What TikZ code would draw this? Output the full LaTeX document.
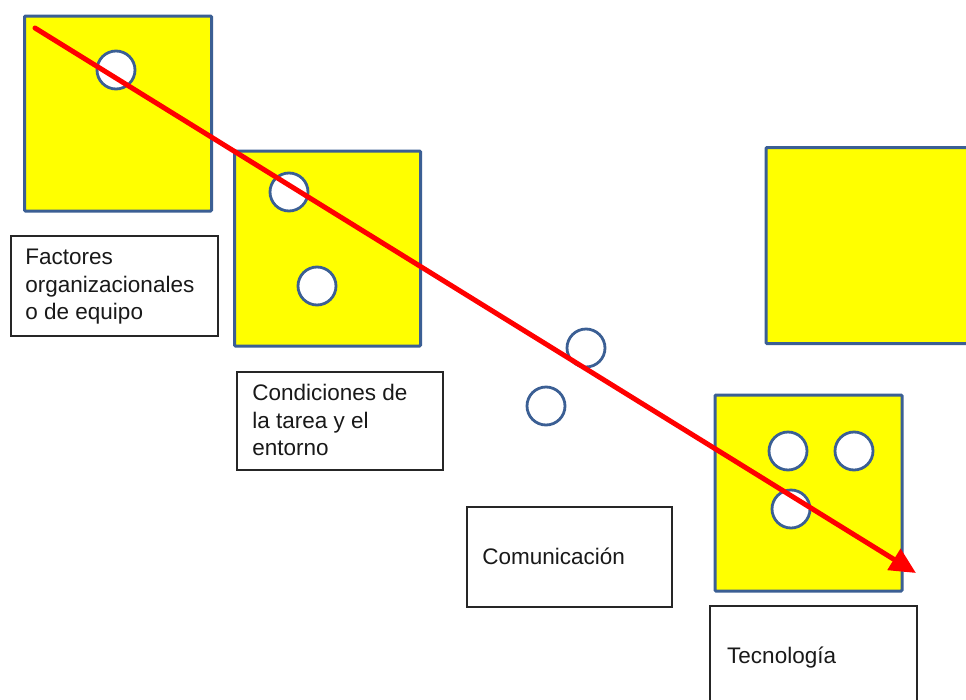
\documentclass[tikz,border=0pt]{standalone}
\usepackage{fontspec}
\setmainfont{Liberation Sans}
\usetikzlibrary{arrows.meta}
\definecolor{bordblue}{HTML}{3B5F94}
\definecolor{arrred}{HTML}{FF0000}
\definecolor{boxyellow}{HTML}{FFFF00}
\begin{document}
\begin{tikzpicture}[x=1pt,y=-1pt,
  ybox/.style={draw=bordblue,fill=boxyellow,line width=3pt,rounded corners=1pt,inner sep=0pt},
  dot/.style={circle,draw=bordblue,fill=white,line width=2.8pt,minimum size=38pt,inner sep=0pt},
  tbox/.style={draw=black!85,fill=white,line width=1.5pt,inner sep=0pt},
  txt/.style={font=\fontsize{22.5}{27.5}\selectfont,align=left,inner sep=0pt,anchor=north west,text=black!90},
  arr/.style={draw=arrred,line width=5pt,-{Triangle[length=26pt,width=24pt]}}]
\clip (0,0) rectangle (966,699);
\useasboundingbox (0,0) rectangle (966,699);
\fill[white] (0,0) rectangle (966,699);
% yellow boxes
\node[ybox,minimum width=187pt,minimum height=195pt] (y1) at (118,113.5) {};
\node[ybox,minimum width=186pt,minimum height=195pt] (y2) at (327.5,248.5) {};
\node[ybox,minimum width=220pt,minimum height=196pt] (y3) at (876,245.5) {};
\node[ybox,minimum width=187pt,minimum height=196pt] (y4) at (808.5,493) {};
% text boxes
\node[tbox,minimum width=207pt,minimum height=100pt] (t1) at (114.5,286) {};
\node[tbox,minimum width=206pt,minimum height=98pt] (t2) at (340,421) {};
\node[tbox,minimum width=205pt,minimum height=100pt] (t3) at (569.5,557) {};
\node[tbox,minimum width=207pt,minimum height=120pt] (t4) at (813.5,666) {};
\node[txt] (l1) at (t1.north west) [xshift=15pt,yshift=-14pt] {Factores\\organizacionales\\o de equipo};
\node[txt] (l2) at (t2.north west) [xshift=16pt,yshift=-13pt] {Condiciones de\\la tarea y el\\entorno};
\node[txt,anchor=west] (l3) at (t3.west) [xshift=16pt,yshift=1pt] {Comunicación};
\node[txt,anchor=west] (l4) at (710,658) [xshift=17pt] {Tecnología};
% circles
\node[dot] (c1) at (116,70) {};
\node[dot] (c2) at (289,192) {};
\node[dot] (c3) at (317,286) {};
\node[dot] (c4) at (586,348) {};
\node[dot] (c5) at (546,406) {};
\node[dot] (c6) at (788,451) {};
\node[dot] (c7) at (854,451) {};
\node[dot] (c8) at (791,509) {};
% arrow
\coordinate (as) at (35,28);
\coordinate (ae) at (916,573);
\draw[arr,line cap=round] (as) -- (ae);
\end{tikzpicture}
\end{document}
